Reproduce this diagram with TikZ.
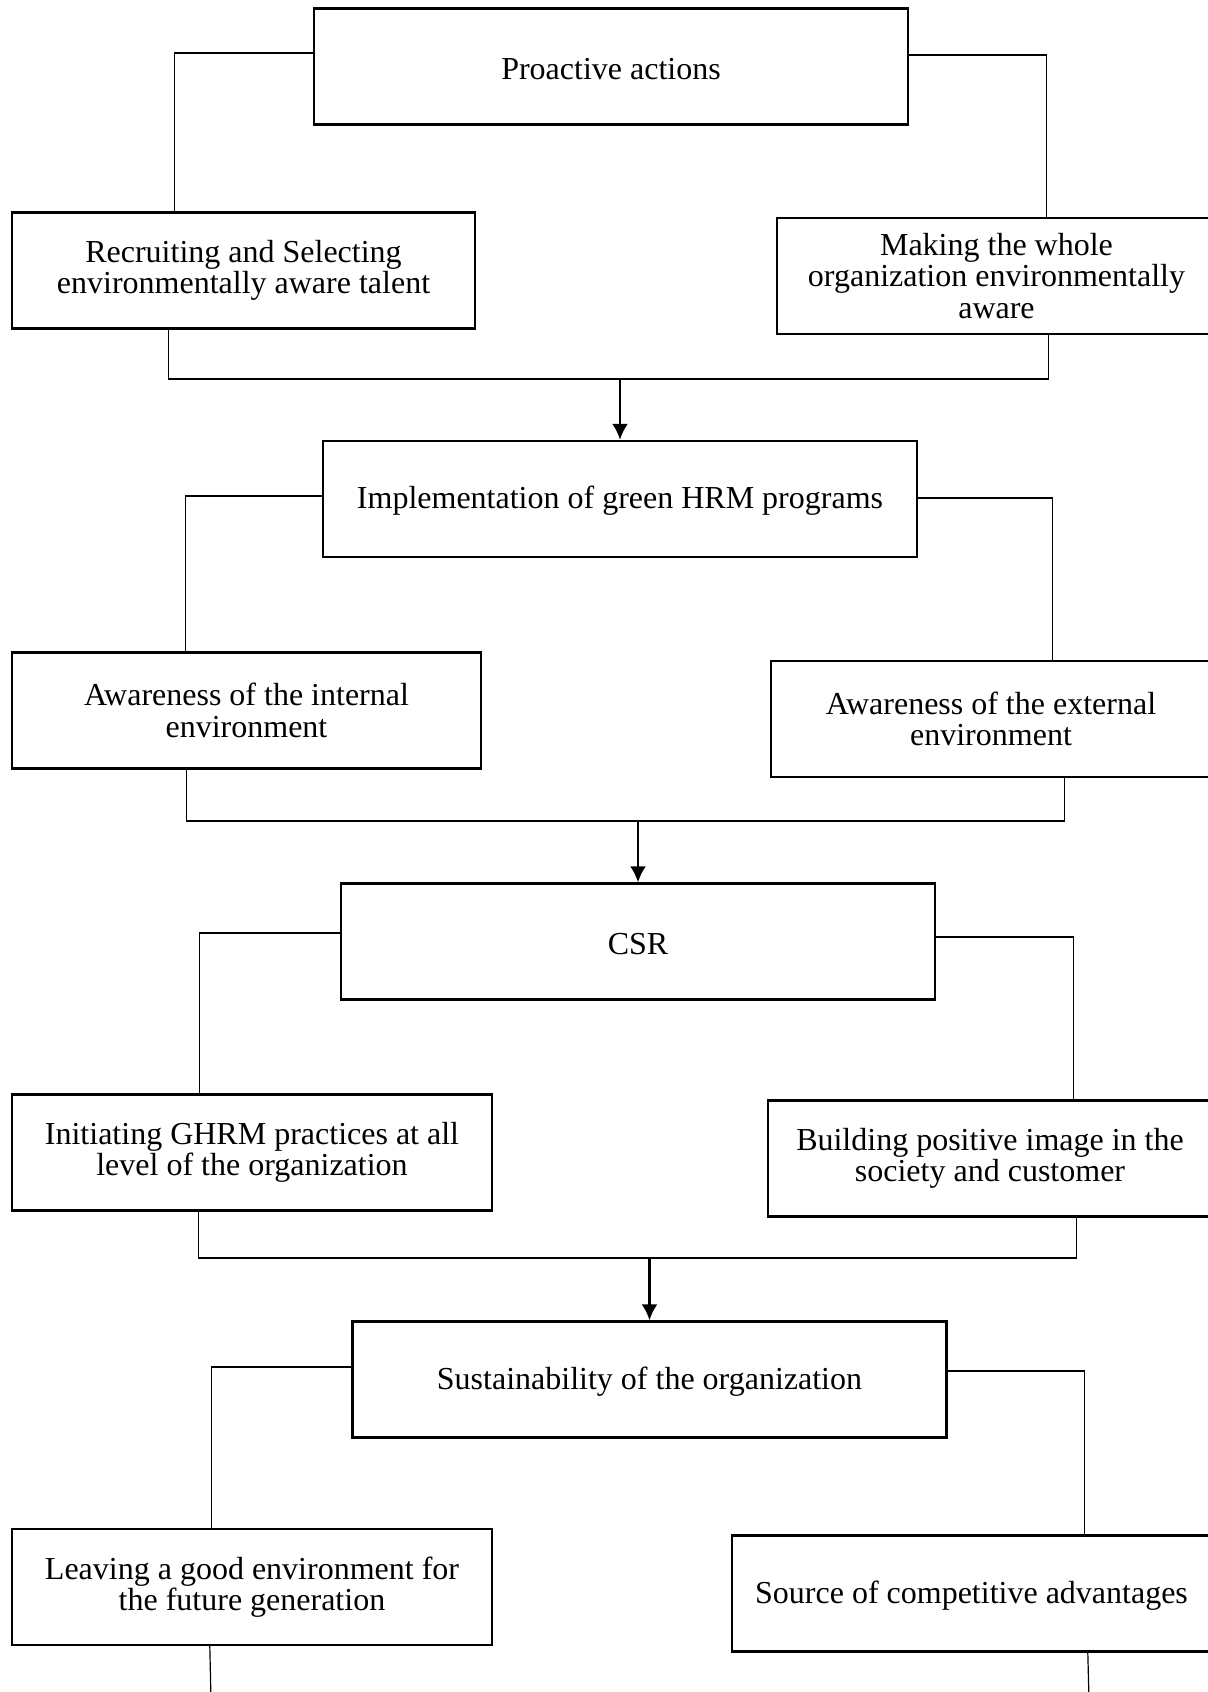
\documentclass[tikz,border=0pt]{standalone}
\usepackage{fontspec}
\setmainfont{Liberation Serif}
\usetikzlibrary{arrows.meta, positioning, calc}

\begin{document}
\begin{tikzpicture}[
    x=0.5pt, y=-0.5pt,
    every node/.style={font=\fontsize{16pt}{15.8pt}\selectfont},
    stagebox/.style={rectangle, draw, line width=1.2pt, align=center,
                     minimum width=297pt, minimum height=58pt, inner sep=2pt,
                     execute at begin node={\rule{0pt}{13pt}}},
    sidebox/.style={rectangle, draw, line width=1.2pt, align=center,
                    minimum height=58pt, inner sep=2pt,
                    execute at begin node={\rule{0pt}{13.5pt}}},
    link/.style={line width=0.6pt},
    flow/.style={-{Latex[length=8pt, width=8pt]}, line width=1.2pt}
]
    \useasboundingbox (0,0) rectangle (1208,1692);

    % stage 1
    \node[stagebox] (proactive) at (611,66.5) {Proactive actions};
    \node[sidebox, minimum width=231.5pt] (recruit) at (243.5,270.5)
        {Recruiting and Selecting\\environmentally aware talent};
    \node[sidebox, minimum width=219.5pt] (making) at (996.5,276)
        {Making the whole\\organization environmentally\\aware};

    % stage 2
    \node[stagebox] (greenhrm) at (620,499) {Implementation of green HRM programs};
    \node[sidebox, minimum width=234.5pt] (internal) at (246.5,710.5)
        {Awareness of the internal\\environment};
    \node[sidebox, minimum width=220pt] (external) at (991,719)
        {Awareness of the external\\environment};

    % stage 3
    \node[stagebox] (csr) at (638,941.5) {CSR};
    \node[sidebox, minimum width=240pt] (initiating) at (252,1152.5)
        {Initiating GHRM practices at all\\level of the organization};
    \node[sidebox, minimum width=222pt] (building) at (990,1158.5)
        {Building positive image in the\\society and customer};

    % stage 4
    \node[stagebox] (sustain) at (649.5,1379.5) {Sustainability of the organization};
    \node[sidebox, minimum width=240pt] (leaving) at (252,1587)
        {Leaving a good environment for\\the future generation};
    \node[sidebox, minimum width=239.5pt] (source) at (971.5,1593.5)
        {Source of competitive advantages};

    \coordinate (j1) at (620,379);
    \coordinate (j2) at (638,821);
    \coordinate (j3) at (649.5,1258);
    \coordinate (endl) at (211,1700);
    \coordinate (endr) at (1089,1700);

    % branches
    \draw[link] ($(proactive.west)+(0,-13.5)$) -| ($(recruit.north west)+(164,0)$);
    \draw[link] ($(proactive.east)+(0,-11.5)$) -| ($(making.north west)+(271,0)$);
    \draw[link] ($(recruit.south west)+(158,0)$) |- (j1) -| ($(making.south west)+(273,0)$);
    \draw[flow] (j1) -- (greenhrm.north);

    \draw[link] ($(greenhrm.west)+(0,-3)$) -| ($(internal.north west)+(175,0)$);
    \draw[link] ($(greenhrm.east)+(0,-1)$) -| ($(external.north west)+(283,0)$);
    \draw[link] ($(internal.south west)+(176,0)$) |- (j2) -| ($(external.south west)+(295,0)$);
    \draw[flow] (j2) -- (csr.north);

    \draw[link] ($(csr.west)+(0,-8.5)$) -| ($(initiating.north west)+(189,0)$);
    \draw[link] ($(csr.east)+(0,-4.5)$) -| ($(building.north west)+(307,0)$);
    \draw[link] ($(initiating.south west)+(188,0)$) |- (j3) -| ($(building.south west)+(310,0)$);
    \draw[flow] (j3) -- (sustain.north);

    \draw[link] ($(sustain.west)+(0,-12.5)$) -| ($(leaving.north west)+(201,0)$);
    \draw[link] ($(sustain.east)+(0,-8.5)$) -| ($(source.north west)+(354,0)$);
    \draw[link] ($(leaving.south west)+(199,0)$) -- (endl);
    \draw[link] ($(source.south west)+(357,0)$) -- (endr);
\end{tikzpicture}
\end{document}
